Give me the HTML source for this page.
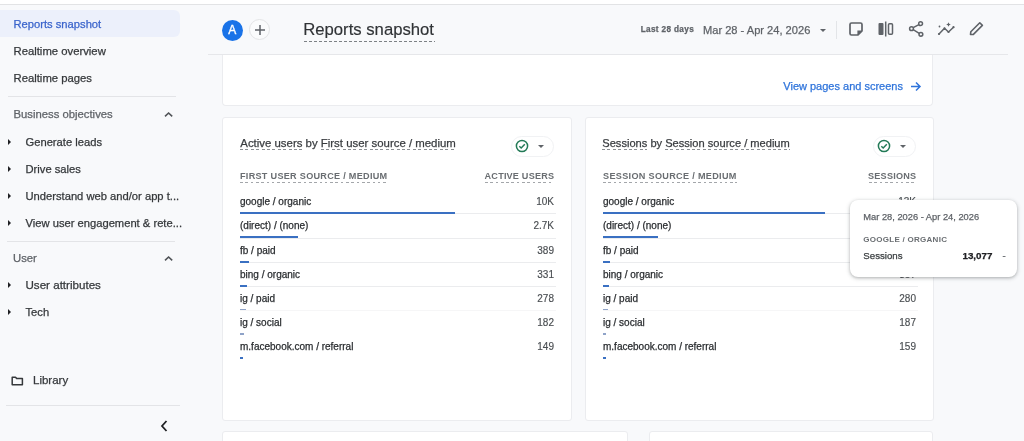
<!DOCTYPE html>
<html><head><meta charset="utf-8"><title>Reports snapshot</title><style>
*{margin:0;padding:0;box-sizing:border-box}
html,body{width:1024px;height:441px;overflow:hidden;background:#f8f9fb;font-family:"Liberation Sans",Arial,sans-serif}
.t{position:absolute;white-space:nowrap;line-height:1;-webkit-text-stroke:0.25px currentColor}
.topbar{position:absolute;left:0;top:0;width:1024px;height:5px;background:#fff;border-bottom:1px solid #e2e3e5}
.navsel{position:absolute;left:0;top:10px;width:180px;height:27px;background:#ecf0fb;border-radius:0 6px 6px 0}
.hr{position:absolute;height:1px;background:#e3e4e7}
.tri{position:absolute;width:0;height:0;border-top:3px solid transparent;border-bottom:3px solid transparent;border-left:3.5px solid #202124}
.chev{position:absolute}
.avatar{position:absolute;left:221.7px;top:20.3px;width:21px;height:21px;border-radius:50%;background:#1a73e8;color:#fff;font-size:12px;font-weight:400;line-height:21px;text-align:center;-webkit-text-stroke:0.35px #fff}
.plus{position:absolute;left:249px;top:19.4px;width:21px;height:21px;border-radius:50%;border:1px solid #e3e4e6;background:#fafbfc;display:flex;align-items:center;justify-content:center}
.dash{position:absolute;height:1px;background:repeating-linear-gradient(90deg,#7d8185 0 3px,transparent 3px 5px)}
.dots{position:absolute;height:1px;background:repeating-linear-gradient(90deg,#a3a6aa 0 2.6px,transparent 2.6px 5.3px)}
.u{background:repeating-linear-gradient(90deg,#8a8e92 0 3px,transparent 3px 5.4px) 0 100%/100% 1px no-repeat;padding-bottom:1.5px}
.dd{position:absolute;width:0;height:0;border-left:3.5px solid transparent;border-right:3.5px solid transparent;border-top:3.5px solid #5f6368}
.card{position:absolute;background:#fff;border:1px solid #ebecef;border-radius:3px}
.chip{position:absolute;width:43px;height:21px;border-radius:11px;border:1px solid #f1f2f4;background:#fff}
.sep{position:absolute;height:1px;background:#ebecee}
.bar{position:absolute;height:2px;background:#3a70c2}
.tip{position:absolute;left:850px;top:200px;width:167px;height:77px;background:#fff;border-radius:8px;box-shadow:0 1px 3px rgba(60,64,67,.3),0 1px 4px 1px rgba(60,64,67,.12)}
</style></head>
<body>
<div class="topbar"></div>
<div class="navsel"></div>
<div class="t" style="top:19.32px;font-size:11.2px;color:#3a64cc;left:13.50px;">Reports snapshot</div>
<div class="t" style="top:46.43px;font-size:11.3px;color:#35383b;left:13.50px;">Realtime overview</div>
<div class="t" style="top:73.33px;font-size:11.3px;color:#35383b;left:13.50px;">Realtime pages</div>
<div class="hr" style="left:8px;top:96px;width:168px"></div>
<div class="t" style="top:108.73px;font-size:11.3px;color:#5f6368;left:13.50px;">Business objectives</div>
<svg class="chev" style="left:163px;top:110.2px" width="11" height="8" viewBox="0 0 11 8"><path d="M2 6.3 L5.6 3 L9.2 6.3" fill="none" stroke="#505357" stroke-width="1.6"/></svg>
<div class="tri" style="left:8px;top:138.8px"></div>
<div class="t" style="top:136.82px;font-size:11.2px;color:#35383b;left:25.50px;">Generate leads</div>
<div class="tri" style="left:8px;top:165.7px"></div>
<div class="t" style="top:163.72px;font-size:11.2px;color:#35383b;left:25.50px;">Drive sales</div>
<div class="tri" style="left:8px;top:192.7px"></div>
<div class="t" style="top:190.72px;font-size:11.2px;color:#35383b;left:25.50px;">Understand web and/or app t...</div>
<div class="tri" style="left:8px;top:219.8px"></div>
<div class="t" style="top:217.82px;font-size:11.2px;color:#35383b;left:25.50px;">View user engagement &amp; rete...</div>
<div class="hr" style="left:7px;top:241px;width:168px"></div>
<div class="t" style="top:252.73px;font-size:11.3px;color:#5f6368;left:13.00px;">User</div>
<svg class="chev" style="left:163px;top:254px" width="11" height="8" viewBox="0 0 11 8"><path d="M2 6.3 L5.6 3 L9.2 6.3" fill="none" stroke="#505357" stroke-width="1.6"/></svg>
<div class="tri" style="left:8px;top:282.0px"></div>
<div class="t" style="top:279.48px;font-size:11.6px;color:#35383b;left:25.50px;">User attributes</div>
<div class="tri" style="left:8px;top:309.2px"></div>
<div class="t" style="top:307.02px;font-size:11.2px;color:#35383b;left:25.50px;">Tech</div>
<svg style="position:absolute;left:10px;top:374.5px" width="15" height="13" viewBox="0 0 15 13"><path d="M2.2 2.3 h3.3 l1.3 1.3 h5.6 v6.1 h-10.2 z" fill="none" stroke="#35383b" stroke-width="1.5" stroke-linejoin="round"/></svg>
<div class="t" style="top:374.67px;font-size:11.5px;color:#35383b;left:33.00px;">Library</div>
<div class="hr" style="left:6px;top:405px;width:174px"></div>
<svg style="position:absolute;left:159px;top:419px" width="11" height="14" viewBox="0 0 11 14"><path d="M7.5 2 L3 7 L7.5 12" fill="none" stroke="#202124" stroke-width="1.8"/></svg>
<div class="avatar">A</div>
<div class="plus"><svg width="12" height="12" viewBox="0 0 12 12"><path d="M6 1v10M1 6h10" stroke="#5f6368" stroke-width="1.5"/></svg></div>
<div class="t" style="top:22.46px;font-size:16.7px;color:#303336;left:303.20px;-webkit-text-stroke:0.15px #303336;">Reports snapshot</div>
<div class="dash" style="left:304px;top:40.6px;width:131px"></div>
<div class="t" style="top:25.56px;font-size:8.2px;color:#5f6368;font-weight:700;letter-spacing:0.35px;left:640.70px;">Last 28 days</div>
<div class="t" style="top:24.50px;font-size:11.1px;color:#5f6368;left:703.00px;">Mar 28 - Apr 24, 2026</div>
<div class="dd" style="left:820px;top:28.5px"></div>
<div style="position:absolute;left:836px;top:21px;width:1px;height:18px;background:#e3e5e8"></div>
<svg style="position:absolute;left:848px;top:21px" width="16" height="16" viewBox="0 0 16 16"><path d="M3.5 2 H12.5 Q14 2 14 3.5 V10 L10 14 H3.5 Q2 14 2 12.5 V3.5 Q2 2 3.5 2 Z" fill="none" stroke="#5f6368" stroke-width="1.7" stroke-linejoin="round"/><path d="M14 10 H10 V14" fill="#5f6368" stroke="#5f6368" stroke-width="1.2"/></svg>
<svg style="position:absolute;left:877px;top:20px" width="18" height="18" viewBox="0 0 18 18"><rect x="1.5" y="3" width="5" height="12" rx="1" fill="#5f6368"/><path d="M8.7 1.5 V16.5" stroke="#5f6368" stroke-width="1.5"/><rect x="11.5" y="3.8" width="4" height="10.4" rx="1" fill="none" stroke="#5f6368" stroke-width="1.5"/></svg>
<svg style="position:absolute;left:908px;top:20px" width="17" height="18" viewBox="0 0 17 18"><circle cx="12.6" cy="3.7" r="1.9" fill="none" stroke="#5f6368" stroke-width="1.5"/><circle cx="3.5" cy="8.7" r="1.9" fill="none" stroke="#5f6368" stroke-width="1.5"/><circle cx="12.9" cy="14.3" r="1.9" fill="none" stroke="#5f6368" stroke-width="1.5"/><path d="M5.2 7.7 L10.9 4.6 M5.2 9.7 L11.2 13.3" stroke="#5f6368" stroke-width="1.5"/></svg>
<svg style="position:absolute;left:937px;top:21px" width="19" height="15" viewBox="0 0 19 15"><path d="M2 13 L7.5 7.2 L11.5 11 L16.5 6.2" fill="none" stroke="#5f6368" stroke-width="1.5" stroke-linejoin="round" stroke-linecap="round"/><circle cx="2" cy="13" r="1.1" fill="#5f6368"/><circle cx="7.5" cy="7.2" r="1" fill="#5f6368"/><circle cx="11.5" cy="11" r="1.1" fill="#5f6368"/><circle cx="16.5" cy="6.2" r="1.1" fill="#5f6368"/><path d="M11.5 1.2 L12.2 2.8 L13.8 3.5 L12.2 4.2 L11.5 5.8 L10.8 4.2 L9.2 3.5 L10.8 2.8 Z" fill="#5f6368"/><circle cx="2.5" cy="5.5" r="0.9" fill="#5f6368"/></svg>
<svg style="position:absolute;left:968px;top:21px" width="17" height="16" viewBox="0 0 17 16"><path d="M2.5 13.5 L2.8 10.8 L11.8 1.8 L14.4 4.4 L5.4 13.4 Z" fill="none" stroke="#5f6368" stroke-width="1.6" stroke-linejoin="round"/></svg>
<div class="card" style="left:222px;top:54px;width:711px;height:52px;border-top:0;border-radius:0 0 4px 4px"></div>
<div class="t" style="top:80.99px;font-size:11px;color:#2f74db;left:783.30px;">View pages and screens</div>
<svg style="position:absolute;left:910px;top:81px" width="12" height="11" viewBox="0 0 12 11"><path d="M1 5.5 H10 M6 1.5 L10 5.5 L6 9.5" fill="none" stroke="#2f74db" stroke-width="1.5"/></svg>
<div class="hr" style="left:208px;top:53.5px;width:800px;background:#e6e7ea"></div>
<div class="card" style="left:222px;top:117px;width:350px;height:304px"></div>
<div class="t" style="top:137.53px;font-size:11.42px;color:#3a3d40;left:240.30px;"><span class="u">Active users</span> by <span class="u">First user source / medium</span></div>
<div class="t" style="top:172.00px;font-size:9.1px;color:#696d71;font-weight:700;letter-spacing:0.29000000000000004px;left:240.00px;-webkit-text-stroke:0;">FIRST USER SOURCE / MEDIUM</div>
<div class="dots" style="left:240px;top:182.4px;width:146.5px"></div>
<div class="t" style="top:172.00px;font-size:9.1px;color:#696d71;font-weight:700;letter-spacing:0.2px;right:469.80px;-webkit-text-stroke:0;">ACTIVE USERS</div>
<div class="dots" style="left:485px;top:182.4px;width:69px"></div>
<div class="chip" style="left:511px;top:135.5px"></div>
<svg style="position:absolute;left:515px;top:139px" width="14" height="14" viewBox="0 0 14 14"><circle cx="7" cy="7" r="5.6" fill="none" stroke="#237a57" stroke-width="1.5"/><path d="M4.3 7.2 L6.2 9 L9.8 5.3" fill="none" stroke="#237a57" stroke-width="1.5"/></svg>
<div class="dd" style="left:538px;top:145px"></div>
<div class="t" style="top:197.13px;font-size:10px;color:#2a2d30;left:240.00px;">google / organic</div>
<div class="t" style="top:197.13px;font-size:10px;color:#4a4e52;right:470.00px;-webkit-text-stroke:0.15px currentColor;">10K</div>
<div class="sep" style="left:240px;top:213.3px;width:316px"></div>
<div class="bar" style="left:240px;top:212.1px;width:214.5px;"></div>
<div class="t" style="top:221.33px;font-size:10px;color:#2a2d30;left:240.00px;">(direct) / (none)</div>
<div class="t" style="top:221.33px;font-size:10px;color:#4a4e52;right:470.00px;-webkit-text-stroke:0.15px currentColor;">2.7K</div>
<div class="sep" style="left:240px;top:237.5px;width:316px"></div>
<div class="bar" style="left:240px;top:236.3px;width:58px;"></div>
<div class="t" style="top:245.53px;font-size:10px;color:#2a2d30;left:240.00px;">fb / paid</div>
<div class="t" style="top:245.53px;font-size:10px;color:#4a4e52;right:470.00px;-webkit-text-stroke:0.15px currentColor;">389</div>
<div class="sep" style="left:240px;top:261.7px;width:316px"></div>
<div class="bar" style="left:240px;top:260.5px;width:8.5px;"></div>
<div class="t" style="top:269.74px;font-size:10px;color:#2a2d30;left:240.00px;">bing / organic</div>
<div class="t" style="top:269.74px;font-size:10px;color:#4a4e52;right:470.00px;-webkit-text-stroke:0.15px currentColor;">331</div>
<div class="sep" style="left:240px;top:285.9px;width:316px"></div>
<div class="bar" style="left:240px;top:284.7px;width:7.3px;"></div>
<div class="t" style="top:293.94px;font-size:10px;color:#2a2d30;left:240.00px;">ig / paid</div>
<div class="t" style="top:293.94px;font-size:10px;color:#4a4e52;right:470.00px;-webkit-text-stroke:0.15px currentColor;">278</div>
<div class="sep" style="left:240px;top:310.1px;width:316px;opacity:.45"></div>
<div class="bar" style="left:240px;top:308.9px;width:6px;background:#8fa3c8;height:1.5px;"></div>
<div class="t" style="top:318.14px;font-size:10px;color:#2a2d30;left:240.00px;">ig / social</div>
<div class="t" style="top:318.14px;font-size:10px;color:#4a4e52;right:470.00px;-webkit-text-stroke:0.15px currentColor;">182</div>
<div class="bar" style="left:240px;top:333.1px;width:4px;background:#8fa3c8;height:1.5px;"></div>
<div class="t" style="top:342.33px;font-size:10px;color:#2a2d30;left:240.00px;">m.facebook.com / referral</div>
<div class="t" style="top:342.33px;font-size:10px;color:#4a4e52;right:470.00px;-webkit-text-stroke:0.15px currentColor;">149</div>
<div class="bar" style="left:240px;top:357.3px;width:3px;"></div>
<div class="card" style="left:585px;top:117px;width:349px;height:304px"></div>
<div class="t" style="top:137.80px;font-size:11.1px;color:#3a3d40;left:602.30px;"><span class="u">Sessions</span> by <span class="u">Session source / medium</span></div>
<div class="t" style="top:172.00px;font-size:9.1px;color:#696d71;font-weight:700;letter-spacing:0.32px;left:603.00px;-webkit-text-stroke:0;">SESSION SOURCE / MEDIUM</div>
<div class="dots" style="left:603px;top:182.4px;width:133.5px"></div>
<div class="t" style="top:172.00px;font-size:9.1px;color:#696d71;font-weight:700;letter-spacing:0.2px;right:107.80px;-webkit-text-stroke:0;">SESSIONS</div>
<div class="dots" style="left:868.5px;top:182.4px;width:47.5px"></div>
<div class="chip" style="left:873px;top:135.5px"></div>
<svg style="position:absolute;left:877px;top:139px" width="14" height="14" viewBox="0 0 14 14"><circle cx="7" cy="7" r="5.6" fill="none" stroke="#237a57" stroke-width="1.5"/><path d="M4.3 7.2 L6.2 9 L9.8 5.3" fill="none" stroke="#237a57" stroke-width="1.5"/></svg>
<div class="dd" style="left:900px;top:145px"></div>
<div class="t" style="top:197.13px;font-size:10px;color:#2a2d30;left:603.00px;">google / organic</div>
<div class="t" style="top:197.13px;font-size:10px;color:#4a4e52;right:108.00px;-webkit-text-stroke:0.15px currentColor;">13K</div>
<div class="sep" style="left:603px;top:213.3px;width:315px"></div>
<div class="bar" style="left:603px;top:212.1px;width:222px;"></div>
<div class="t" style="top:221.33px;font-size:10px;color:#2a2d30;left:603.00px;">(direct) / (none)</div>
<div class="t" style="top:221.33px;font-size:10px;color:#4a4e52;right:108.00px;-webkit-text-stroke:0.15px currentColor;">3.2K</div>
<div class="sep" style="left:603px;top:237.5px;width:315px"></div>
<div class="bar" style="left:603px;top:236.3px;width:55px;"></div>
<div class="t" style="top:245.53px;font-size:10px;color:#2a2d30;left:603.00px;">fb / paid</div>
<div class="t" style="top:245.53px;font-size:10px;color:#4a4e52;right:108.00px;-webkit-text-stroke:0.15px currentColor;">402</div>
<div class="sep" style="left:603px;top:261.7px;width:315px"></div>
<div class="bar" style="left:603px;top:260.5px;width:7px;"></div>
<div class="t" style="top:269.74px;font-size:10px;color:#2a2d30;left:603.00px;">bing / organic</div>
<div class="t" style="top:269.74px;font-size:10px;color:#4a4e52;right:108.00px;-webkit-text-stroke:0.15px currentColor;">357</div>
<div class="sep" style="left:603px;top:285.9px;width:315px"></div>
<div class="bar" style="left:603px;top:284.7px;width:6px;"></div>
<div class="t" style="top:293.94px;font-size:10px;color:#2a2d30;left:603.00px;">ig / paid</div>
<div class="t" style="top:293.94px;font-size:10px;color:#4a4e52;right:108.00px;-webkit-text-stroke:0.15px currentColor;">280</div>
<div class="sep" style="left:603px;top:310.1px;width:315px;opacity:.45"></div>
<div class="bar" style="left:603px;top:308.9px;width:5px;background:#8fa3c8;height:1.5px;"></div>
<div class="t" style="top:318.14px;font-size:10px;color:#2a2d30;left:603.00px;">ig / social</div>
<div class="t" style="top:318.14px;font-size:10px;color:#4a4e52;right:108.00px;-webkit-text-stroke:0.15px currentColor;">187</div>
<div class="bar" style="left:603px;top:333.1px;width:3.2px;background:#8fa3c8;height:1.5px;"></div>
<div class="t" style="top:342.33px;font-size:10px;color:#2a2d30;left:603.00px;">m.facebook.com / referral</div>
<div class="t" style="top:342.33px;font-size:10px;color:#4a4e52;right:108.00px;-webkit-text-stroke:0.15px currentColor;">159</div>
<div class="bar" style="left:603px;top:357.3px;width:2.7px;"></div>
<div class="tip"></div>
<div class="t" style="top:212.73px;font-size:9.3px;color:#5f6368;left:863.30px;">Mar 28, 2026 - Apr 24, 2026</div>
<div class="t" style="top:236.03px;font-size:8px;color:#6a6e72;font-weight:700;letter-spacing:0.27px;left:863.30px;-webkit-text-stroke:0;">GOOGLE / ORGANIC</div>
<div class="t" style="top:251.19px;font-size:9.7px;color:#3c4043;left:863.30px;">Sessions</div>
<div class="t" style="top:251.10px;font-size:9.8px;color:#202124;font-weight:700;right:31.60px;">13,077</div>
<div class="t" style="top:251.36px;font-size:9.5px;color:#5f6368;left:1002.50px;">-</div>
<div class="card" style="left:222px;top:431px;width:406px;height:30px"></div>
<div class="card" style="left:649px;top:431px;width:284px;height:30px"></div>
</body></html>
